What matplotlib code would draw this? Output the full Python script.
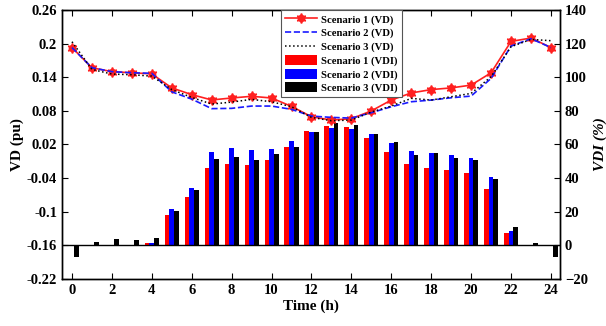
import numpy as np
import matplotlib.pyplot as plt
from matplotlib.legend_handler import HandlerTuple

plt.rcParams['font.family'] = ['Liberation Serif', 'DejaVu Serif']
plt.rcParams['font.weight'] = 'bold'
plt.rcParams['axes.labelweight'] = 'bold'

hours = np.arange(0, 25)

# voltage deviation (pu)
vd_s1 = [0.193, 0.157, 0.150, 0.148, 0.146, 0.121, 0.109, 0.0995, 0.103, 0.106,
         0.103, 0.088, 0.0695, 0.0636, 0.066, 0.080, 0.0993, 0.112, 0.118, 0.121,
         0.126, 0.148, 0.204, 0.210, 0.193]
vd_s2 = [0.193, 0.157, 0.150, 0.148, 0.147, 0.114, 0.101, 0.084, 0.0845, 0.0886,
         0.0886, 0.0827, 0.0707, 0.0684, 0.0671, 0.0767, 0.0874, 0.0963, 0.0993, 0.1034,
         0.1064, 0.138, 0.1957, 0.2088, 0.193]
vd_s3 = [0.2034, 0.154, 0.1457, 0.1445, 0.142, 0.118, 0.104, 0.0921, 0.0957, 0.1005,
         0.0963, 0.0874, 0.0684, 0.0624, 0.0636, 0.078, 0.0886, 0.1023, 0.0993, 0.1052,
         0.1112, 0.141, 0.1945, 0.2076, 0.2052]

# voltage deviation index (%)
vdi_s1 = [-0.4, -0.4, -0.4, -0.4, 1.4, 17.9, 28.8, 46.2, 48.4, 47.9,
          50.7, 58.8, 68.0, 71.2, 70.6, 63.9, 55.3, 48.5, 46.0, 44.9,
          43.2, 33.6, 7.2, -0.4, -0.4]
vdi_s2 = [-0.4, -0.4, -0.4, -0.4, 1.4, 21.6, 34.4, 55.3, 58.0, 56.9,
          57.6, 62.0, 67.7, 69.6, 69.4, 66.1, 60.6, 56.3, 54.9, 53.9,
          52.1, 40.4, 8.6, -0.4, -0.4]
vdi_s3 = [-7.0, 1.8, 3.9, 3.2, 4.3, 20.4, 32.9, 51.4, 52.8, 50.7,
          54.6, 58.8, 67.7, 72.8, 71.4, 66.1, 61.4, 53.7, 54.9, 51.9,
          50.7, 39.2, 10.8, 1.3, -7.0]

fig = plt.figure(figsize=(6.06, 3.26), dpi=100)
ax = fig.add_axes([0.1023, 0.1442, 0.8217, 0.8251])
ax2 = ax.twinx()
ax.set_zorder(ax2.get_zorder() + 1)
ax.patch.set_visible(False)

w = 0.235
b1 = ax2.bar(hours - w, vdi_s1, w, color='#ff0000', label='Scenario 1 (VDI)')
b2 = ax2.bar(hours, vdi_s2, w, color='#0000ff', label='Scenario 2 (VDI)')
b3 = ax2.bar(hours + w, vdi_s3, w, color='#000000', label='Scenario 3 (VDI)')
ax2.axhline(0, color='black', lw=1.0)
ax2.set_ylim(-20, 140)
ax2.set_yticks(np.arange(-20, 141, 20))
ax2.set_ylabel('VDI (%)', fontsize=11, style='italic', labelpad=4)

l1, = ax.plot(hours, vd_s1, '-', color='#ff2020', lw=1.2, marker='o', ms=4.5)
l1b, = ax.plot(hours, vd_s1, ls='none', color='#ff2020', marker=(6, 2, 0), ms=7, mew=1.2)
l2, = ax.plot(hours, vd_s2, '--', color='#1a1aff', lw=1.2)
l3, = ax.plot(hours, vd_s3, ':', color='black', lw=1.1)

ax.set_xlim(-0.5, 24.45)
ax.set_ylim(-0.22, 0.26)
ax.set_yticks([0.26, 0.2, 0.14, 0.08, 0.02, -0.04, -0.1, -0.16, -0.22])
ax.set_yticklabels(['0.26', '0.2', '0.14', '0.08', '0.02', '-0.04', '-0.1', '-0.16', '-0.22'])
ax.set_xticks(np.arange(0, 25, 2))
ax.set_xlabel('Time (h)', fontsize=11, labelpad=2)
ax.set_ylabel('VD (pu)', fontsize=11, labelpad=2)

ax.tick_params(axis='both', direction='in', labelsize=10.5, length=4, top=True)
ax2.tick_params(axis='y', direction='in', labelsize=10.5, length=4)
for a in (ax, ax2):
    for s in a.spines.values():
        s.set_linewidth(1.0)

handles = [(l1, l1b), l2, l3, b1, b2, b3]
labels = ['Scenario 1 (VD)', 'Scenario 2 (VD)', 'Scenario 3 (VD)',
          'Scenario 1 (VDI)', 'Scenario 2 (VDI)', 'Scenario 3 (VDI)']
leg = ax.legend(handles, labels, loc='upper left', bbox_to_anchor=(0.44, 1.0),
                borderaxespad=0, fontsize=7.7, handlelength=3.0, handleheight=1.1,
                labelspacing=0.25, borderpad=0.35, handletextpad=0.4, fancybox=False,
                framealpha=1, edgecolor='#555555',
                handler_map={tuple: HandlerTuple(ndivide=1)})
leg.get_frame().set_linewidth(0.8)

fig.savefig('out.png', dpi=100)
